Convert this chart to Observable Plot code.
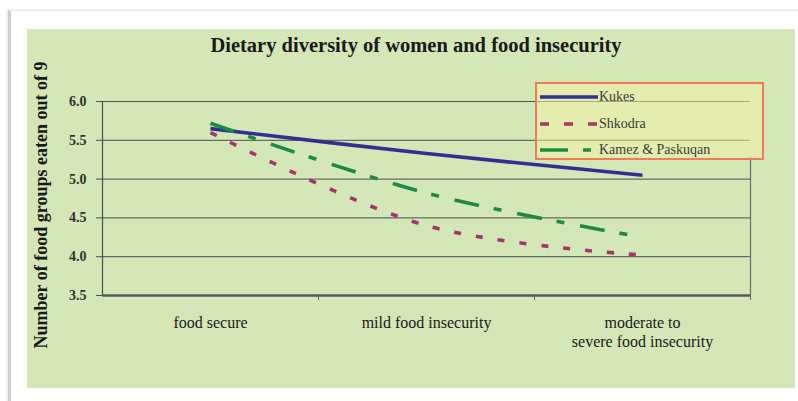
<!DOCTYPE html>
<html>
<head>
<meta charset="utf-8">
<script src="https://cdn.jsdelivr.net/npm/d3@7"></script>
<script src="https://cdn.jsdelivr.net/npm/@observablehq/plot@0.6"></script>
<style>
  html, body { margin: 0; padding: 0; background: #ffffff; width: 798px; height: 401px; overflow: hidden; }
  #page { position: absolute; left: 8px; top: 10px; width: 790px; height: 391px; border-left: 3px solid #cfcfcf; border-top: 1px solid #e6e6e6; box-shadow: -1px 0 2px #e0e0e0; }
  #panel { position: absolute; left: 27px; top: 29px; width: 768px; height: 359px; background: #d4e7b6; }
  #chart { position: absolute; left: 0; top: 0; }
  .serif { font-family: "Liberation Serif", "DejaVu Serif", "Times New Roman", serif; }
  #title { position: absolute; left: 0; width: 832px; top: 34px; text-align: center; font-weight: bold; font-size: 20.5px; color: #1a1a1a; }
  #ylabel { position: absolute; left: 41px; top: 205px; transform: translate(-50%, -50%) rotate(-90deg); white-space: nowrap; font-weight: bold; font-size: 18px; color: #1a1a1a; }
  #legend { position: absolute; left: 535px; top: 82px; width: 225px; height: 74px; background: rgba(240, 242, 165, 0.55); border: 2px solid #f07a5c; font-size: 14px; color: #3a3a3a; }
  .entry { position: absolute; left: 3px; height: 14px; display: flex; align-items: center; }
  .entry svg { display: block; }
  .entry span { margin-left: 1px; }
  #chart svg text { font-family: "Liberation Serif", "DejaVu Serif", "Times New Roman", serif; }
</style>
</head>
<body>
<div id="page"></div>
<div id="panel"></div>
<div id="chart"></div>
<div id="title" class="serif">Dietary diversity of women and food insecurity</div>
<div id="ylabel" class="serif">Number of food groups eaten out of 9</div>
<div id="legend" class="serif"></div>
<script>
const categories = ["food secure", "mild food insecurity", "moderate to\nsevere food insecurity"];
const seriesNames = ["Kukes", "Shkodra", "Kamez & Paskuqan"];
const kukes = [5.65, 5.33, 5.05];
const shkodra = [5.60, 4.40, 4.02];
const kamez = [5.72, 4.82, 4.25];
const yTicks = [3.5, 4.0, 4.5, 5.0, 5.5, 6.0];

const colors = ["#2f3191", "#a5336f", "#1c8a45"];
const dashes = [null, "7,15", "25,15,8,16"];
const legendDashes = [null, "9,15", "28,15,8,30"];
const seriesValues = [kukes, shkodra, kamez];

const rows = [];
seriesNames.forEach((name, s) => {
  seriesValues[s].forEach((v, i) => rows.push({series: name, pos: i + 0.5, value: v}));
});

const font = "'Liberation Serif', 'DejaVu Serif', serif";

const plot = Plot.plot({
  width: 798,
  height: 401,
  marginLeft: 102,
  marginRight: 48,
  marginTop: 101,
  marginBottom: 106,
  style: {background: "transparent", fontFamily: font, color: "#1a1a1a"},
  x: {type: "linear", domain: [0, 3], axis: null},
  y: {domain: [3.5, 6.0], axis: null},
  marks: [
    Plot.gridY(yTicks, {stroke: "#4d4d4d", strokeOpacity: 1, strokeWidth: 1}),
    Plot.ruleX([3], {y1: 3.5, y2: 5.28, stroke: "#6a6a6a", strokeWidth: 1.2}),
    Plot.ruleX([0], {stroke: "#4d4d4d", strokeWidth: 1.2}),
    Plot.ruleY([3.5], {stroke: "#5a5a5a", strokeWidth: 2.5}),
    Plot.axisY(yTicks, {tickFormat: d3.format(".1f"), tickSize: 6, tickPadding: 10, fontSize: 14, fontWeight: "bold", fill: "#333", stroke: "#4d4d4d", label: null}),
    Plot.axisX([1, 2, 3], {tickSize: 5, tickFormat: () => "", stroke: "#6a6a6a", label: null}),
    Plot.axisX([0.5, 1.5, 2.5], {tickSize: 0, tickPadding: 19, lineAnchor: "top", lineHeight: 1.2, tickFormat: d => categories[Math.round(d - 0.5)], fontSize: 16, fill: "#1a1a1a", label: null}),
    ...seriesNames.map((name, s) => Plot.line(rows.filter(r => r.series === name), {
      x: "pos", y: "value", stroke: colors[s], strokeWidth: 3.6,
      strokeDasharray: dashes[s], curve: "catmull-rom", strokeLinecap: "butt"
    }))
  ]
});
document.getElementById("chart").appendChild(plot);

const legend = document.getElementById("legend");
const tops = [6, 33, 59];
seriesNames.forEach((name, s) => {
  const e = document.createElement("div");
  e.className = "entry";
  e.style.top = tops[s] + "px";
  const dash = legendDashes[s] ? `stroke-dasharray="${legendDashes[s]}"` : "";
  e.innerHTML = `<svg width="58" height="8"><line x1="0" x2="58" y1="4" y2="4" stroke="${colors[s]}" stroke-width="3.6" ${dash}/></svg><span>${name}</span>`;
  legend.appendChild(e);
});
</script>
</body>
</html>
